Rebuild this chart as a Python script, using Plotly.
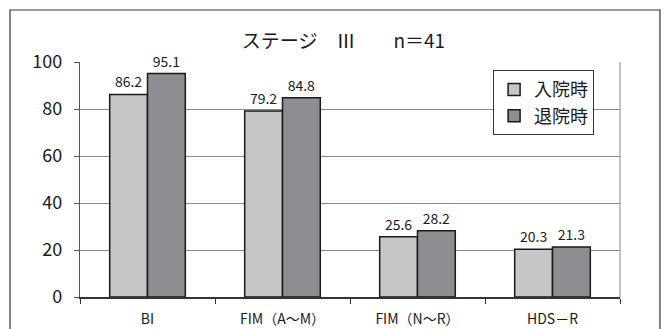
import plotly.graph_objects as go

categories = ["BI", "FIM（A～M）", "FIM（N～R）", "HDS－R"]
admission = [86.2, 79.2, 25.6, 20.3]
discharge = [95.1, 84.8, 28.2, 21.3]
series_names = ["入院時", "退院時"]
y_ticks = [0, 20, 40, 60, 80, 100]

FONT = "Noto Sans CJK JP, Liberation Sans, sans-serif"

fig = go.Figure()
for name, vals, color in [(series_names[0], admission, "#c6c6c8"),
                          (series_names[1], discharge, "#8e8e92")]:
    fig.add_trace(go.Bar(
        x=categories, y=vals, name=name,
        marker=dict(color=color, line=dict(color="#1a1a1a", width=1.5)),
        text=[f"{v:.1f}" for v in vals], textposition="outside",
        textfont=dict(size=14, color="#1a1a1a", family=FONT),
        cliponaxis=False,
    ))

fig.update_layout(
    width=667, height=329,
    margin=dict(l=80, r=47, t=62, b=32),
    paper_bgcolor="white", plot_bgcolor="white",
    barmode="group", bargap=0.44, bargroupgap=0,
    font=dict(family=FONT, color="#1a1a1a"),
    title=dict(text="ステージ　Ⅲ　　n＝41", x=0.515, xanchor="center",
               y=0.875, yanchor="middle", font=dict(size=19, family=FONT)),
    legend=dict(x=0.765, y=0.965, xanchor="left", yanchor="top",
                bgcolor="white", bordercolor="#333", borderwidth=1,
                font=dict(size=18, family=FONT), itemwidth=30,
                tracegroupgap=2),
    showlegend=True,
)

fig.update_xaxes(
    showline=True, linecolor="#333", linewidth=1.5,
    ticks="outside", tickson="boundaries", ticklen=5, tickcolor="#333",
    tickfont=dict(size=14, family=FONT), showgrid=False,
    ticklabelstandoff=8, automargin=False,
)
fig.update_yaxes(
    range=[0, 100], tickvals=y_ticks,
    showline=True, linecolor="#555", linewidth=1.2,
    ticks="outside", ticklen=5, tickcolor="#555",
    tickfont=dict(size=18, family=FONT), ticklabelstandoff=8,
    showgrid=True, gridcolor="#888", gridwidth=1, zeroline=False,
    automargin=False,
)

# plot-area right edge and outer frame
fig.add_shape(type="line", xref="paper", yref="paper", x0=1, x1=1, y0=0, y1=1,
              line=dict(color="#888", width=1))
fig.add_shape(type="rect", xref="paper", yref="paper",
              x0=-0.1296, x1=1.074, y0=-0.25, y1=1.2213,
              line=dict(color="#333", width=1.2))

fig.write_html("out.html")
